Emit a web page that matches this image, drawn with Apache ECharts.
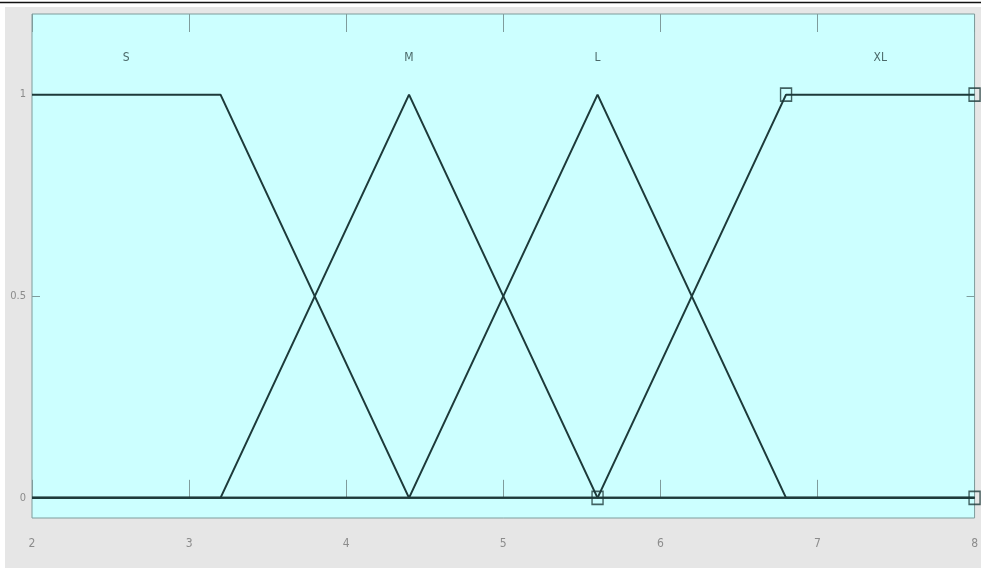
<!DOCTYPE html>
<html>
<head>
<meta charset="utf-8">
<script src="https://cdn.jsdelivr.net/npm/echarts@6/dist/echarts.min.js"></script>
<style>
  html, body { margin: 0; padding: 0; background: #fff; }
  #chart { width: 981px; height: 568px; }
</style>
</head>
<body>
<div id="chart"></div>
<script>
// membership functions (x, mu)
const mfNames = ['S', 'M', 'L', 'XL']
const mfS = [[2, 1], [3.2, 1], [4.4, 0], [8, 0]]
const mfM = [[2, 0], [3.2, 0], [4.4, 1], [5.6, 0], [8, 0]]
const mfL = [[2, 0], [4.4, 0], [5.6, 1], [6.8, 0], [8, 0]]
const mfXL = [[2, 0], [5.6, 0], [6.8, 1], [8, 1]]
// handles of the selected function
const handles = [[5.6, 0], [6.8, 1], [8, 1], [8, 0]]
// name labels
const labelX = [2.6, 4.4, 5.6, 7.4]
const labelY = 1.09
const xTicks = [2, 3, 4, 5, 6, 7, 8]
const yTicks = [0, 0.5, 1]

const lineColor = '#1d3a3a'
const axisColor = '#7f9c9c'
const tickText = '#8c8c8c'

const chart = echarts.init(document.getElementById('chart'))

const mkLine = (data) => ({
  type: 'line',
  data: data,
  symbol: 'none',
  lineStyle: { color: lineColor, width: 2 },
  z: 3
})

const option = {
  animation: false,
  backgroundColor: '#fff',
  graphic: [
    { type: 'rect', shape: { x: 5, y: 7, width: 976, height: 561 }, style: { fill: '#e6e6e6' }, z: -10 },
    { type: 'line', shape: { x1: 0, y1: 2.5, x2: 981, y2: 2.5 }, style: { stroke: '#111', lineWidth: 1.5 }, z: -10 }
  ],
  grid: {
    left: 32, top: 14, right: 3, bottom: 50,
    show: true,
    backgroundColor: '#ccffff',
    borderColor: axisColor,
    borderWidth: 1
  },
  xAxis: [
    {
      type: 'value', min: 2, max: 8, interval: 1,
      axisLine: { show: false },
      splitLine: { show: false },
      axisTick: { inside: true, length: 18, lineStyle: { color: axisColor } },
      axisLabel: {
        margin: 20, color: tickText, fontSize: 12, fontFamily: 'DejaVu Sans Condensed, DejaVu Sans',
        customValues: xTicks
      }
    },
    {
      type: 'value', position: 'top', min: 2, max: 8, interval: 1,
      axisLine: { show: false, onZero: false },
      splitLine: { show: false },
      axisTick: { show: true, inside: true, length: 18, customValues: xTicks, lineStyle: { color: axisColor } },
      axisLabel: { show: false }
    }
  ],
  yAxis: [
    {
      type: 'value', min: -0.05, max: 1.2,
      axisLine: { show: false },
      splitLine: { show: false },
      axisTick: { inside: true, length: 8, customValues: yTicks, lineStyle: { color: axisColor } },
      axisLabel: {
        margin: 6, color: tickText, fontSize: 11, fontFamily: 'DejaVu Sans Condensed, DejaVu Sans',
        customValues: yTicks
      }
    },
    {
      type: 'value', position: 'right', min: -0.05, max: 1.2,
      axisLine: { show: false },
      splitLine: { show: false },
      axisTick: { inside: true, length: 8, customValues: yTicks, lineStyle: { color: axisColor } },
      axisLabel: { show: false }
    }
  ],
  series: [
    mkLine(mfS),
    mkLine(mfM),
    mkLine(mfL),
    mkLine(mfXL),
    {
      type: 'scatter',
      data: handles,
      symbol: 'rect',
      symbolSize: [11, 13],
      itemStyle: { color: 'rgba(0,0,0,0)', borderColor: lineColor, borderWidth: 1.5 },
      z: 4
    },
    {
      type: 'scatter',
      data: labelX.map((x, i) => [x, labelY, mfNames[i]]),
      symbolSize: 0,
      label: {
        show: true, position: 'inside',
        formatter: (p) => p.value[2],
        color: '#2a4444', fontSize: 12, fontFamily: 'DejaVu Sans Condensed, DejaVu Sans'
      },
      z: 5
    }
  ]
}

chart.setOption(option)
</script>
</body>
</html>
